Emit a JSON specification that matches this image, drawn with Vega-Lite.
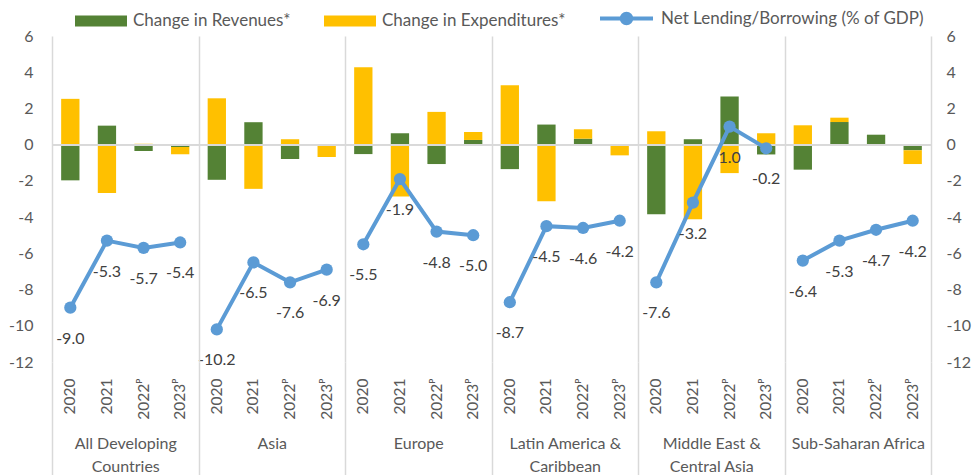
{
  "$schema": "https://vega.github.io/schema/vega-lite/v6.json",
  "width": 879,
  "height": 326,
  "autosize": {"type": "none"},
  "padding": {"left": 52, "top": 36, "right": 46, "bottom": 113},
  "config": {
    "font": "Lato",
    "view": {"stroke": null},
    "locale": {"number": {"decimal": ".", "thousands": ",", "grouping": [3], "currency": ["$", ""], "minus": "-"}},
    "axis": {"labelFont": "Lato", "labelFontSize": 16, "labelColor": "#595959", "title": null},
    "legend": {"labelFont": "Lato", "labelFontSize": 17, "labelColor": "#595959", "padding": 0, "labelLimit": 0}
  },
  "data": {
    "values": [
      {"g": "All Developing Countries", "k": "1|2020", "rev": -1.97, "exp": 2.53, "net": -9.0},
      {"g": "All Developing Countries", "k": "1|2021", "rev": 1.05, "exp": -2.67, "net": -5.3},
      {"g": "All Developing Countries", "k": "1|2022ᴾ", "rev": -0.35, "exp": 0.05, "net": -5.7},
      {"g": "All Developing Countries", "k": "1|2023ᴾ", "rev": -0.13, "exp": -0.4, "net": -5.4},
      {"g": "Asia", "k": "2|2020", "rev": -1.94, "exp": 2.56, "net": -10.2},
      {"g": "Asia", "k": "2|2021", "rev": 1.24, "exp": -2.44, "net": -6.5},
      {"g": "Asia", "k": "2|2022ᴾ", "rev": -0.79, "exp": 0.3, "net": -7.6},
      {"g": "Asia", "k": "2|2023ᴾ", "rev": 0.0, "exp": -0.68, "net": -6.9},
      {"g": "Europe", "k": "3|2020", "rev": -0.52, "exp": 4.28, "net": -5.5},
      {"g": "Europe", "k": "3|2021", "rev": 0.63, "exp": -2.86, "net": -1.9},
      {"g": "Europe", "k": "3|2022ᴾ", "rev": -1.07, "exp": 1.81, "net": -4.8},
      {"g": "Europe", "k": "3|2023ᴾ", "rev": 0.26, "exp": 0.44, "net": -5.0},
      {"g": "Latin America & Caribbean", "k": "4|2020", "rev": -1.35, "exp": 3.28, "net": -8.7},
      {"g": "Latin America & Caribbean", "k": "4|2021", "rev": 1.11, "exp": -3.12, "net": -4.5},
      {"g": "Latin America & Caribbean", "k": "4|2022ᴾ", "rev": 0.33, "exp": 0.52, "net": -4.6},
      {"g": "Latin America & Caribbean", "k": "4|2023ᴾ", "rev": 0.0, "exp": -0.59, "net": -4.2},
      {"g": "Middle East & Central Asia", "k": "5|2020", "rev": -3.84, "exp": 0.74, "net": -7.6},
      {"g": "Middle East & Central Asia", "k": "5|2021", "rev": 0.3, "exp": -4.12, "net": -3.2},
      {"g": "Middle East & Central Asia", "k": "5|2022ᴾ", "rev": 2.66, "exp": -1.57, "net": 1.0},
      {"g": "Middle East & Central Asia", "k": "5|2023ᴾ", "rev": -0.54, "exp": 0.63, "net": -0.2},
      {"g": "Sub-Saharan Africa", "k": "6|2020", "rev": -1.38, "exp": 1.07, "net": -6.4},
      {"g": "Sub-Saharan Africa", "k": "6|2021", "rev": 1.25, "exp": 0.24, "net": -5.3},
      {"g": "Sub-Saharan Africa", "k": "6|2022ᴾ", "rev": 0.55, "exp": 0.0, "net": -4.7},
      {"g": "Sub-Saharan Africa", "k": "6|2023ᴾ", "rev": -0.31, "exp": -0.76, "net": -4.2}
    ]
  },
  "layer": [
    {
      "layer": [
        {
          "transform": [{"fold": ["rev", "exp"], "as": ["s", "v"]}],
          "mark": {"type": "bar"},
          "encoding": {
            "x": {"field": "k", "type": "nominal", "scale": {"paddingInner": 0.5, "paddingOuter": 0.25},
                  "axis": {"labelExpr": "split(datum.value,'|')[1]", "labelAngle": -90, "ticks": false, "domain": false, "grid": false, "labelPadding": 16, "labelFontSize": 15.5, "title": null}},
            "y": {"field": "v", "type": "quantitative", "stack": "zero", "scale": {"domain": [-12, 6], "nice": false},
                  "axis": {"orient": "left", "values": [-12, -10, -8, -6, -4, -2, 0, 2, 4, 6], "grid": false, "domain": false, "ticks": false, "labelPadding": 19, "title": null}},
            "color": {"field": "s", "type": "nominal", "scale": {"domain": ["rev", "exp"], "range": ["#548235", "#FFC000"]},
                      "legend": {"orient": "none", "legendX": 23, "legendY": -41, "direction": "horizontal", "title": null,
                                 "labelExpr": "datum.value=='rev'?'Change in Revenues*':'Change in Expenditures*'",
                                 "symbolType": "M-1,-0.21H1V0.21H-1Z", "symbolSize": 2704, "symbolStrokeWidth": 0,
                                 "columnPadding": 33, "labelOffset": 6}},
            "order": {"field": "s", "sort": "descending"}
          }
        },
        {
          "mark": {"type": "rule", "color": "#d9d9d9", "strokeWidth": 1.5},
          "encoding": {"y": {"datum": 0, "type": "quantitative", "scale": {"domain": [-12, 6], "nice": false}, "axis": null}}
        },
        {
          "mark": {"type": "line", "strokeWidth": 4},
          "encoding": {
            "x": {"field": "k", "type": "nominal", "scale": {"paddingInner": 0.5, "paddingOuter": 0.25},
                  "axis": {"labelExpr": "split(datum.value,'|')[1]", "labelAngle": -90, "ticks": false, "domain": false, "grid": false, "labelPadding": 16, "labelFontSize": 15.5, "title": null}},
            "y": {"field": "net", "type": "quantitative", "scale": {"domain": [-12, 6], "nice": false},
                  "axis": {"orient": "right", "values": [-12, -10, -8, -6, -4, -2, 0, 2, 4, 6], "grid": false, "domain": false, "ticks": false, "labelPadding": 15, "title": null}},
            "detail": {"field": "g"},
            "color": {"datum": "Net Lending/Borrowing (% of GDP)", "scale": {"range": ["#5B9BD5"]},
                      "legend": {"orient": "none", "legendX": 546, "legendY": -46, "title": null,
                                 "symbolType": "M-1,0H1M0.18,0A0.18,0.18 0 1 1 -0.18,0A0.18,0.18 0 1 1 0.18,0Z",
                                 "symbolSize": 2809, "symbolStrokeWidth": 4, "symbolStrokeColor": "#5B9BD5", "symbolFillColor": "#5B9BD5", "labelOffset": 6}}
          }
        },
        {
          "mark": {"type": "circle", "color": "#5B9BD5", "size": 150, "opacity": 1},
          "encoding": {
            "x": {"field": "k", "type": "nominal", "scale": {"paddingInner": 0.5, "paddingOuter": 0.25},
                  "axis": {"labelExpr": "split(datum.value,'|')[1]", "labelAngle": -90, "ticks": false, "domain": false, "grid": false, "labelPadding": 16, "labelFontSize": 15.5, "title": null}},
            "y": {"field": "net", "type": "quantitative", "scale": {"domain": [-12, 6], "nice": false}, "axis": null}
          }
        },
        {
          "mark": {"type": "text", "dy": 31, "fontSize": 16, "color": "#404040", "baseline": "middle", "font": "Lato"},
          "encoding": {
            "x": {"field": "k", "type": "nominal", "scale": {"paddingInner": 0.5, "paddingOuter": 0.25},
                  "axis": {"labelExpr": "split(datum.value,'|')[1]", "labelAngle": -90, "ticks": false, "domain": false, "grid": false, "labelPadding": 16, "labelFontSize": 15.5, "title": null}},
            "y": {"field": "net", "type": "quantitative", "scale": {"domain": [-12, 6], "nice": false}, "axis": null},
            "text": {"field": "net", "type": "quantitative", "format": ".1f"}
          }
        }
      ],
      "resolve": {"scale": {"color": "independent"}, "axis": {"y": "independent"}}
    },
    {
      "mark": {"type": "rect", "opacity": 0},
      "encoding": {
        "x": {"field": "g", "type": "nominal", "sort": null, "scale": {"paddingInner": 0, "paddingOuter": 0},
              "axis": {"orient": "bottom", "tickBand": "extent", "grid": true, "gridColor": "#d9d9d9", "gridWidth": 1.5,
                       "ticks": true, "tickSize": 113, "tickColor": "#d9d9d9", "tickWidth": 1.5, "domain": false,
                       "labelPadding": -40, "labelBaseline": "top", "labelLineHeight": 23, "labelAngle": 0, "labelOverlap": false,
                       "labelExpr": "datum.value=='All Developing Countries'?['All Developing','Countries']:datum.value=='Latin America & Caribbean'?['Latin America &','Caribbean']:datum.value=='Middle East & Central Asia'?['Middle East &','Central Asia']:datum.value",
                       "title": null}}
      }
    }
  ],
  "resolve": {"scale": {"x": "independent"}, "axis": {"x": "independent"}}
}
